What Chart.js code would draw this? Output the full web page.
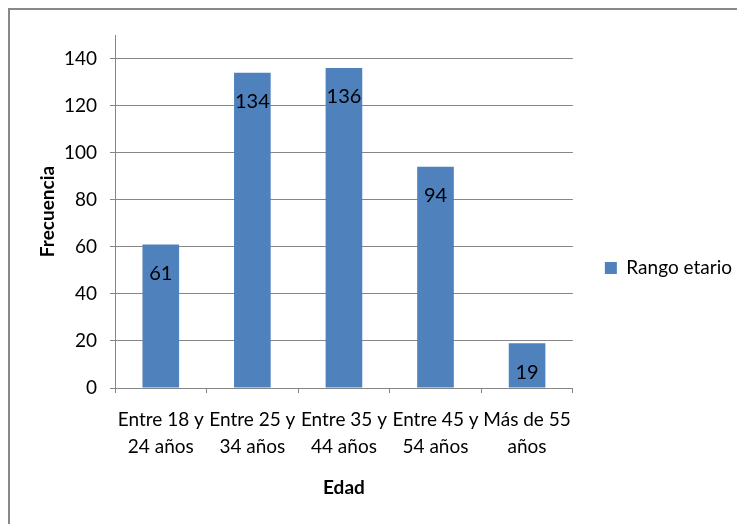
<!DOCTYPE html>
<html>
<head>
<meta charset="utf-8">
<script src="https://cdn.jsdelivr.net/npm/chart.js@4/dist/chart.umd.min.js"></script>
<style>
  body { margin: 0; background: #fff; }
  #wrap { position: relative; width: 737px; height: 524px; overflow: hidden; }
  #frame { position: absolute; left: 8px; top: 8px; width: 800px; height: 600px;
           border-left: 2px solid #888; border-top: 2px solid #888; pointer-events: none; }
</style>
</head>
<body>
<div id="wrap">
  <canvas id="myChart" width="737" height="524"></canvas>
  <div id="frame"></div>
</div>
<script>
var categorias = [["Entre 18 y", "24 años"], ["Entre 25 y", "34 años"], ["Entre 35 y", "44 años"], ["Entre 45 y", "54 años"], ["Más de 55", "años"]];
var frecuencias = [61, 134, 136, 94, 19];
var serie = "Rango etario";
var yMax = 150;
var yPaso = 20;

var fuente = "Lato, 'Liberation Sans', sans-serif";
var gris = '#868686';

// etiquetas de datos dentro del extremo de cada barra
var etiquetas = {
    id: 'etiquetas',
    afterDatasetsDraw: function (chart) {
        var ctx = chart.ctx;
        var meta = chart.getDatasetMeta(0);
        ctx.save();
        ctx.font = '20px ' + fuente;
        ctx.fillStyle = '#000';
        ctx.textAlign = 'center';
        ctx.textBaseline = 'middle';
        meta.data.forEach(function (bar, i) {
            ctx.fillText(String(frecuencias[i]), bar.x, bar.y + 29);
        });
        ctx.restore();
    }
};

var chart = new Chart(document.getElementById("myChart").getContext('2d'), {
    type: 'bar',
    data: {
        labels: categorias,
        datasets: [{
            label: serie,
            data: frecuencias,
            backgroundColor: '#4F81BD',
            borderWidth: 0,
            barPercentage: 0.4,
            categoryPercentage: 1
        }]
    },
    options: {
        responsive: false,
        animation: false,
        layout: { padding: { top: 35, left: 0, right: -5, bottom: 23 } },
        plugins: {
            tooltip: { enabled: false },
            legend: {
                position: 'right',
                labels: {
                    boxWidth: 12, boxHeight: 12, padding: 32,
                    color: '#000',
                    font: { family: fuente, size: 19 }
                }
            }
        },
        scales: {
            x: {
                grid: { drawOnChartArea: false, drawTicks: true, tickLength: 5, offset: true, color: gris },
                border: { color: gris },
                ticks: { color: '#000', padding: 14, maxRotation: 0, autoSkip: false,
                         font: { family: fuente, size: 19, lineHeight: 1.4 } },
                title: { display: true, text: 'Edad', color: '#000', padding: { top: 0, bottom: 2 },
                         font: { family: fuente, size: 19, weight: 'bold' } },
                afterFit: function (s) { s.height = 524 - 23 - 388; }
            },
            y: {
                min: 0, max: yMax,
                grid: { color: gris, tickLength: 5 },
                border: { color: gris },
                ticks: { stepSize: yPaso, color: '#000', padding: 13, font: { family: fuente, size: 19 } },
                afterBuildTicks: function (s) {
                    s.ticks = s.ticks.filter(function (t) { return t.value % yPaso === 0; });
                },
                title: { display: true, text: 'Frecuencia', color: '#000', padding: { top: 36, bottom: 0 },
                         font: { family: fuente, size: 19, weight: 'bold' } },
                afterFit: function (s) { s.width = 115; }
            }
        }
    },
    plugins: [etiquetas]
});
</script>
</body>
</html>
